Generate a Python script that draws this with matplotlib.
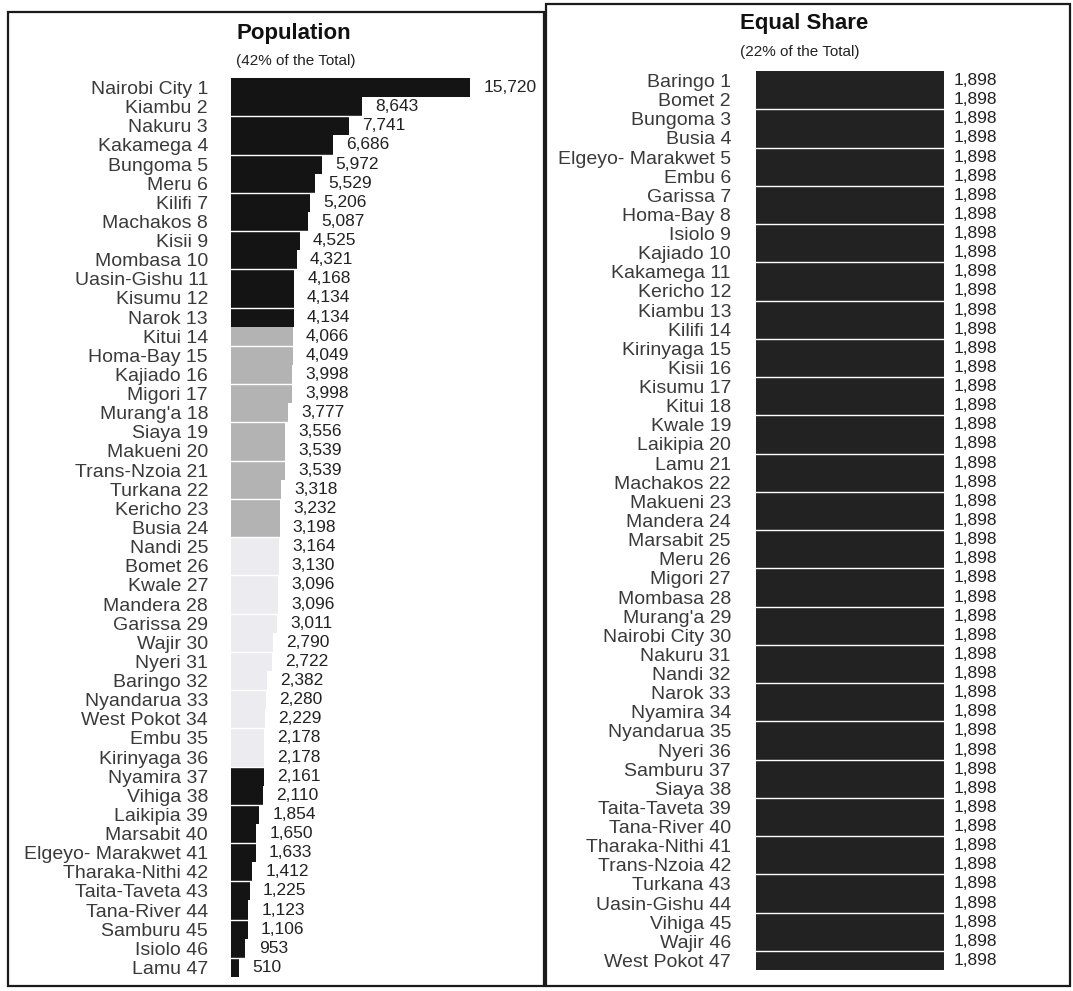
import numpy as np
import matplotlib
matplotlib.use("Agg")
from matplotlib import pyplot as plt
from matplotlib.patches import Rectangle

plt.rcParams['font.family'] = ['Liberation Sans', 'DejaVu Sans']

# Population based share, ranked
pop_counties = ["Nairobi City", "Kiambu", "Nakuru", "Kakamega", "Bungoma", "Meru", "Kilifi",
                "Machakos", "Kisii", "Mombasa", "Uasin-Gishu", "Kisumu", "Narok", "Kitui",
                "Homa-Bay", "Kajiado", "Migori", "Murang'a", "Siaya", "Makueni", "Trans-Nzoia",
                "Turkana", "Kericho", "Busia", "Nandi", "Bomet", "Kwale", "Mandera", "Garissa",
                "Wajir", "Nyeri", "Baringo", "Nyandarua", "West Pokot", "Embu", "Kirinyaga",
                "Nyamira", "Vihiga", "Laikipia", "Marsabit", "Elgeyo- Marakwet", "Tharaka-Nithi",
                "Taita-Taveta", "Tana-River", "Samburu", "Isiolo", "Lamu"]
pop_values = [15720, 8643, 7741, 6686, 5972, 5529, 5206, 5087, 4525, 4321, 4168, 4134, 4134,
              4066, 4049, 3998, 3998, 3777, 3556, 3539, 3539, 3318, 3232, 3198, 3164, 3130,
              3096, 3096, 3011, 2790, 2722, 2382, 2280, 2229, 2178, 2178, 2161, 2110, 1854,
              1650, 1633, 1412, 1225, 1123, 1106, 953, 510]
# group of each county (colour band)
pop_group = [0]*13 + [1]*11 + [2]*12 + [0]*11
group_colors = ["#141414", "#b3b3b3", "#ececf0"]

# Equal share, alphabetical
eq_counties = ["Baringo", "Bomet", "Bungoma", "Busia", "Elgeyo- Marakwet", "Embu", "Garissa",
               "Homa-Bay", "Isiolo", "Kajiado", "Kakamega", "Kericho", "Kiambu", "Kilifi",
               "Kirinyaga", "Kisii", "Kisumu", "Kitui", "Kwale", "Laikipia", "Lamu", "Machakos",
               "Makueni", "Mandera", "Marsabit", "Meru", "Migori", "Mombasa", "Murang'a",
               "Nairobi City", "Nakuru", "Nandi", "Narok", "Nyamira", "Nyandarua", "Nyeri",
               "Samburu", "Siaya", "Taita-Taveta", "Tana-River", "Tharaka-Nithi", "Trans-Nzoia",
               "Turkana", "Uasin-Gishu", "Vihiga", "Wajir", "West Pokot"]
eq_values = [1898]*47

W, H = 1073, 991
fig = plt.figure(figsize=(W/100, H/100), dpi=100)

def px(x0, y0, x1, y1):
    # pixel box (top-left origin) -> figure fraction
    return [x0/W, 1 - y1/H, (x1-x0)/W, (y1-y0)/H]

# panel frames
fig.patches.append(Rectangle((8/W, 1-986/H), (544-8)/W, (986-12)/H, transform=fig.transFigure,
                             fill=False, ec="#1a1a1a", lw=1.6))
fig.patches.append(Rectangle((546/W, 1-986/H), (1070-546)/W, (986-4)/H, transform=fig.transFigure,
                             fill=False, ec="#1a1a1a", lw=1.6))

fig.text(236/W, 1-34/H, "Population", ha="left", va="center", fontsize=16, fontweight="bold",
         color="#111111")
fig.text(236/W, 1-61/H, "(42% of the Total)", ha="left", va="center", fontsize=11, color="#222222")
fig.text(740/W, 1-24/H, "Equal Share", ha="left", va="center", fontsize=16, fontweight="bold",
         color="#111111")
fig.text(740/W, 1-52/H, "(22% of the Total)", ha="left", va="center", fontsize=11, color="#222222")


def draw_panel(rect, names, vals, colors, xmax, label_gap, val_gap):
    ax = fig.add_axes(rect)
    y = np.arange(len(vals))
    ax.barh(y, vals, height=1.0, color=colors, edgecolor="none")
    # thin white separator between pairs of bars
    for b in np.arange(1.5, len(vals) - 1, 2):
        ax.axhline(b, color="white", lw=1.0)
    ax.set_xlim(0, xmax)
    ax.set_ylim(len(vals) - 0.5, -0.5)
    ax.set_yticks(y)
    ax.set_yticklabels([f"{n} {i+1}" for i, n in enumerate(names)], fontsize=14, color="#3a3a3a")
    ax.tick_params(axis="y", length=0, pad=label_gap)
    ax.set_xticks([])
    for s in ax.spines.values():
        s.set_visible(False)
    ax.patch.set_alpha(0)
    for yi, v in zip(y, vals):
        ax.annotate(f"{v:,}", (v, yi), xytext=(val_gap, 0), textcoords="offset points",
                    va="center", ha="left", fontsize=12.5, color="#222222", annotation_clip=False)
    return ax

pop_colors = [group_colors[g] for g in pop_group]
draw_panel(px(231, 78, 531, 977), pop_counties, pop_values, pop_colors, 15720*300/239, 16.5, 9.5)
draw_panel(px(756, 71, 1006, 970), eq_counties, eq_values, ["#222222"]*47, 1898*250/188, 18, 7)

fig.savefig("out.png", dpi=100, facecolor="white")
